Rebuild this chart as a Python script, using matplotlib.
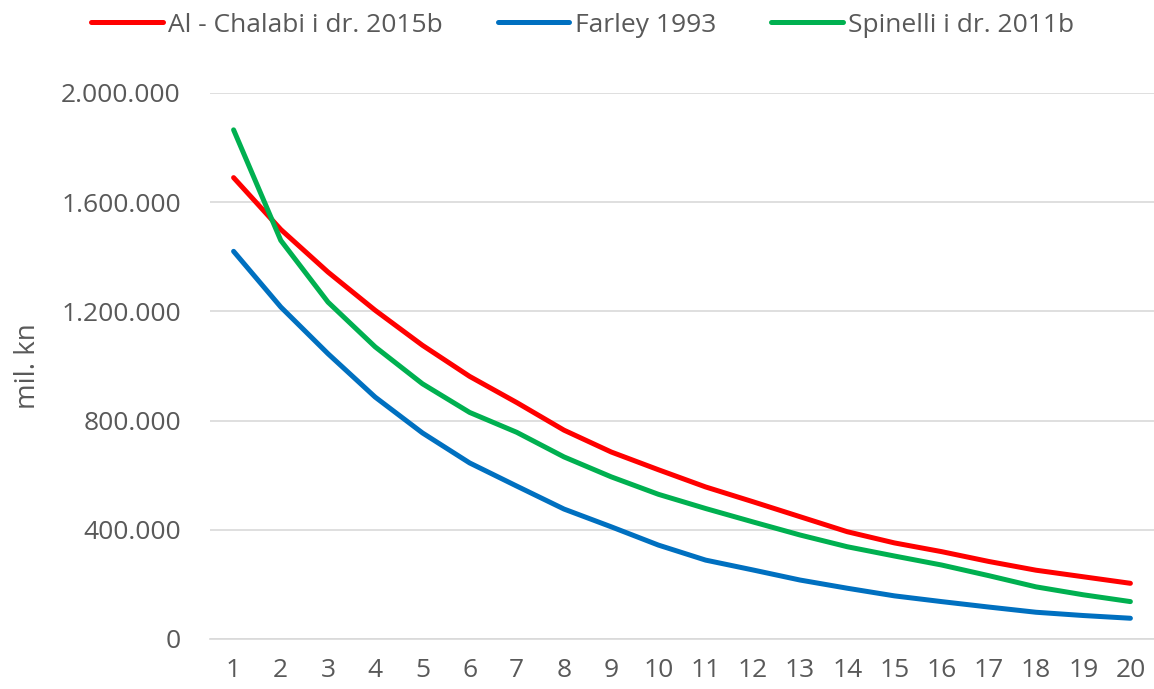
import matplotlib
matplotlib.use("Agg")
import matplotlib.pyplot as plt
from matplotlib.ticker import FuncFormatter

years = list(range(1, 21))
al_chalabi = [1690000, 1500000, 1344000, 1204000, 1076000, 962000, 866000, 765000, 685000, 620000,
              557000, 503000, 448000, 393000, 352000, 320000, 284000, 252000, 228000, 204000]
farley = [1420000, 1216000, 1045000, 886000, 755000, 645000, 560000, 476000, 411000, 344000,
          289000, 253000, 216000, 186000, 158000, 137000, 117000, 98000, 86000, 76000]
spinelli = [1865000, 1460000, 1234000, 1070000, 935000, 830000, 757000, 667000, 594000, 530000,
            478000, 429000, 381000, 338000, 304000, 271000, 232000, 191000, 162000, 137000]
labels = ["Al - Chalabi i dr. 2015b", "Farley 1993", "Spinelli i dr. 2011b"]
colors = ["#ff0000", "#0070c0", "#00b050"]

plt.rcParams['font.family'] = ['Open Sans', 'DejaVu Sans']

fig = plt.figure(figsize=(11.54, 6.89), dpi=100)
ax = fig.add_axes([210 / 1154, 50 / 689, 944 / 1154, 546 / 689])

for vals, lab, col in zip([al_chalabi, farley, spinelli], labels, colors):
    ax.plot(years, vals, color=col, lw=3.6, label=lab, solid_capstyle="round")

ax.set_xlim(0.5, 20.5)
ax.set_ylim(0, 2000000)
ax.set_xticks(years)
ax.set_yticks(range(0, 2000001, 400000))
ax.yaxis.set_major_formatter(FuncFormatter(lambda v, p: f"{int(v):,}".replace(",", ".")))
ax.grid(axis="y", color="#d9d9d9", lw=1.2)
ax.set_axisbelow(True)
for s in ["top", "right", "left"]:
    ax.spines[s].set_visible(False)
ax.spines["bottom"].set_color("#d9d9d9")
ax.spines["bottom"].set_linewidth(1.2)
ax.tick_params(length=0, labelsize=19, colors="#595959")
ax.tick_params(axis="x", pad=14)
ax.tick_params(axis="y", pad=21)
ax.set_ylabel("mil. kn", fontsize=20, color="#595959", labelpad=14)

fig.legend(loc="center", bbox_to_anchor=(0.505, 1 - 25 / 689), ncol=3, frameon=False,
           fontsize=19, handlelength=2.7, columnspacing=2.1, handletextpad=0.2,
           labelcolor="#595959", borderaxespad=0)

fig.savefig("out.png", dpi=100)
